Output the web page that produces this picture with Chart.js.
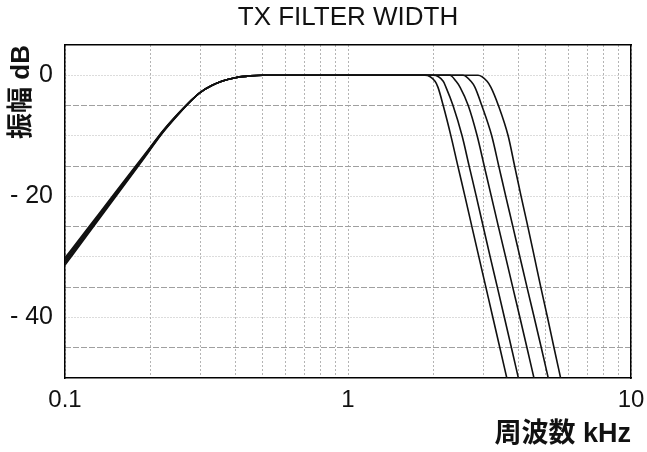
<!DOCTYPE html>
<html>
<head>
<meta charset="utf-8">
<title>TX FILTER WIDTH</title>
<script src="https://cdn.jsdelivr.net/npm/chart.js@4.4.1/dist/chart.umd.min.js"></script>
<style>
  html, body { margin: 0; padding: 0; background: #fff; }
  canvas { display: block; }
</style>
</head>
<body>
<canvas id="filterChart" width="647" height="452"></canvas>
<script>
// 1) Data (frequency in kHz, level in dB)

// tick / grid values
const freqGrid = [0.1, 0.2, 0.3, 0.4, 0.5, 0.6, 0.7, 0.8, 0.9, 1, 2, 3, 4, 5, 6, 7, 8, 9, 10];
const freqLabels = [0.1, 1, 10];
const dbGridFine = [-40, -30, -20, -10, 0];
const dbGridCoarse = [-45, -35, -25, -15, -5];
const dbLabels = [-40, -20, 0];

// low side (shared high-pass slope, the five traces fan out a little near 0.1 kHz)
const hpFreq = [0.1, 0.12, 0.15, 0.18, 0.2, 0.22, 0.25, 0.28, 0.3, 0.33, 0.36, 0.4, 0.45, 0.5, 1.0, 1.5];
const hpDbA = [-30.15, -25.35, -19.45, -14.65, -11.9, -9.35, -6.4, -4.1, -2.85, -1.7, -0.95, -0.4, -0.1, 0, 0, 0];
const hpDbB = [-30.45, -25.6, -19.65, -14.8, -12.0, -9.42, -6.45, -4.1, -2.85, -1.7, -0.95, -0.4, -0.1, 0, 0, 0];
const hpDbC = [-30.75, -25.85, -19.85, -14.95, -12.1, -9.5, -6.5, -4.1, -2.85, -1.7, -0.95, -0.4, -0.1, 0, 0, 0];
const hpDbD = [-31.05, -26.1, -20.05, -15.1, -12.2, -9.58, -6.55, -4.1, -2.85, -1.7, -0.95, -0.4, -0.1, 0, 0, 0];
const hpDbE = [-31.35, -26.35, -20.25, -15.25, -12.3, -9.65, -6.6, -4.1, -2.85, -1.7, -0.95, -0.4, -0.1, 0, 0, 0];

// high side (five filter widths), frequency where each trace hits these levels
const lpDb = [0, -1, -2, -5, -10, -15, -20, -25, -30, -35, -40, -45, -50];
const lpFreqA = [1.87, 2.03, 2.08, 2.17, 2.31, 2.445, 2.59, 2.74, 2.90, 3.07, 3.25, 3.44, 3.64];
const lpFreqB = [2.00, 2.17, 2.22, 2.35, 2.53, 2.68, 2.84, 3.005, 3.18, 3.37, 3.57, 3.78, 4.00];
const lpFreqC = [2.29, 2.41, 2.49, 2.66, 2.86, 3.03, 3.21, 3.40, 3.605, 3.82, 4.05, 4.29, 4.54];
const lpFreqD = [2.55, 2.72, 2.81, 2.97, 3.22, 3.41, 3.61, 3.825, 4.05, 4.29, 4.55, 4.82, 5.10];
const lpFreqE = [2.88, 3.10, 3.20, 3.40, 3.68, 3.88, 4.09, 4.32, 4.555, 4.80, 5.07, 5.345, 5.64];

// 2) Build {x, y} points for one trace
function buildTrace(hpDb, lpFreq) {
  const pts = [];
  hpFreq.forEach((f, i) => {
    if (f < lpFreq[0]) pts.push({ x: f, y: hpDb[i] });
  });
  lpFreq.forEach((f, i) => pts.push({ x: f, y: lpDb[i] }));
  return pts;
}

const traces = [
  buildTrace(hpDbA, lpFreqA),
  buildTrace(hpDbB, lpFreqB),
  buildTrace(hpDbC, lpFreqC),
  buildTrace(hpDbD, lpFreqD),
  buildTrace(hpDbE, lpFreqE)
];

// 3) Styling
const latin = "'Liberation Sans', Arial, 'Noto Sans CJK JP', sans-serif";
const frame = { display: true, color: '#000', width: 1.5 };

const datasets = traces.map(t => ({
  data: t,
  borderColor: '#111',
  borderWidth: 1.6,
  pointRadius: 0,
  fill: false,
  cubicInterpolationMode: 'monotone'
}));

// 4) Chart
new Chart(document.getElementById('filterChart'), {
  type: 'line',
  data: { datasets: datasets },
  options: {
    responsive: false,
    animation: false,
    devicePixelRatio: 1,
    layout: { padding: 0 },
    plugins: {
      legend: { display: false },
      tooltip: { enabled: false },
      title: { display: false }
    },
    scales: {
      x: {
        type: 'logarithmic',
        position: 'bottom',
        min: 0.1,
        max: 10,
        afterBuildTicks: s => { s.ticks = freqGrid.map(v => ({ value: v })); },
        afterFit: s => {
          s.height = 74;
          // labels may hang over the frame, don't shrink the plot for them
          s.paddingLeft = 0;
          s.paddingRight = 0;
        },
        ticks: {
          autoSkip: false,
          maxRotation: 0,
          padding: 8,
          color: '#111',
          font: { family: latin, size: 24 },
          callback: v => freqLabels.includes(v) ? String(v) : ''
        },
        grid: { color: '#b4b4b4', lineWidth: 1, drawTicks: false },
        border: Object.assign({ dash: [2, 2] }, frame),
        title: {
          display: true,
          text: '周波数 kHz',
          align: 'end',
          color: '#111',
          font: { family: latin, size: 27, weight: 'bold' },
          padding: { top: 0, bottom: 1 }
        }
      },
      x2: {
        type: 'logarithmic',
        position: 'top',
        min: 0.1,
        max: 10,
        afterFit: s => { s.height = 45; },
        ticks: { display: false },
        grid: { drawOnChartArea: false, drawTicks: false },
        border: frame,
        title: {
          display: true,
          text: 'TX FILTER WIDTH',
          color: '#111',
          font: { family: latin, size: 26 },
          padding: { top: 2, bottom: 8 }
        }
      },
      y: {
        type: 'linear',
        position: 'left',
        min: -50,
        max: 5,
        afterBuildTicks: s => { s.ticks = dbGridFine.map(v => ({ value: v })); },
        afterFit: s => { s.width = 65; },
        ticks: {
          padding: 12,
          color: '#111',
          font: { family: latin, size: 25 },
          callback: v => dbLabels.includes(v) ? (v < 0 ? '- ' + (-v) : String(v)) : ''
        },
        grid: { color: '#b8b8b8', lineWidth: 1, drawTicks: false },
        border: Object.assign({ dash: [1, 2] }, frame),
        title: {
          display: true,
          text: '振幅 dB',
          align: 'end',
          color: '#111',
          font: { family: latin, size: 26, weight: 'bold' },
          padding: { top: 6, bottom: 0 }
        }
      },
      y2: {
        type: 'linear',
        position: 'right',
        min: -50,
        max: 5,
        afterBuildTicks: s => { s.ticks = dbGridCoarse.map(v => ({ value: v })); },
        afterFit: s => { s.width = 16; },
        ticks: { display: false },
        grid: { color: '#a0a0a0', lineWidth: 1, drawTicks: false },
        border: Object.assign({ dash: [6, 2] }, frame)
      }
    }
  }
});
</script>
</body>
</html>
